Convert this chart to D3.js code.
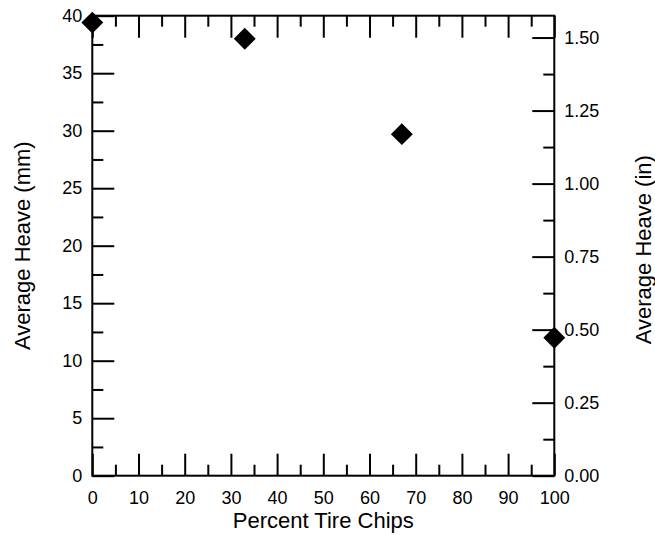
<!DOCTYPE html>
<html>
<head>
<meta charset="utf-8">
<script src="https://cdn.jsdelivr.net/npm/d3@7"></script>
<style>
  body { margin: 0; background: #fff; }
  text { font-family: "Liberation Sans", Arial, sans-serif; fill: #000; }
</style>
</head>
<body>
<svg id="chart" width="655" height="535"></svg>
<script>
const percentChips = [0, 33, 67, 100];
const heaveMm = [39.4, 38.0, 29.7, 12.0];
const xTicks = [0, 10, 20, 30, 40, 50, 60, 70, 80, 90, 100];
const yTicksMm = [0, 5, 10, 15, 20, 25, 30, 35, 40];
const yTicksIn = [0, 0.25, 0.5, 0.75, 1.0, 1.25, 1.5];

const width = 655, height = 535;
const margin = { top: 15.7, right: 100.7, bottom: 59.3, left: 92.3 };
const innerW = width - margin.left - margin.right;
const innerH = height - margin.top - margin.bottom;

const svg = d3.select("#chart");
const g = svg.append("g").attr("transform", `translate(${margin.left},${margin.top})`);

const x = d3.scaleLinear().domain([0, 100]).range([0, innerW]);
const y = d3.scaleLinear().domain([0, 40]).range([innerH, 0]);
const yIn = d3.scaleLinear().domain([0, 40 / 25.4]).range([innerH, 0]);

const major = 22, minor = 11;
const lw = 2;

// minor tick positions
const xMinor = d3.range(5, 100, 10);
const yMinorMm = d3.range(2.5, 40, 5);
const yMinorIn = d3.range(0.125, 1.5, 0.25);

function styleAxis(sel) {
  sel.select(".domain").remove();
  sel.selectAll(".tick line").attr("stroke", "#000").attr("stroke-width", lw);
  sel.selectAll(".tick text").style("font-size", "18px").attr("fill", "#000");
}

// bottom axis (ticks inward)
g.append("g").attr("transform", `translate(0,${innerH})`)
  .call(d3.axisBottom(x).tickValues(xTicks).tickSize(-major).tickPadding(16).tickFormat(d3.format("d")))
  .call(styleAxis);
g.append("g").attr("transform", `translate(0,${innerH})`)
  .call(d3.axisBottom(x).tickValues(xMinor).tickSize(-minor).tickFormat(""))
  .call(styleAxis);

// top axis mirror
g.append("g")
  .call(d3.axisTop(x).tickValues(xTicks).tickSize(-major).tickFormat(""))
  .call(styleAxis);
g.append("g")
  .call(d3.axisTop(x).tickValues(xMinor).tickSize(-minor).tickFormat(""))
  .call(styleAxis);

// left axis mm
g.append("g")
  .call(d3.axisLeft(y).tickValues(yTicksMm).tickSize(-major).tickPadding(10).tickFormat(d3.format("d")))
  .call(styleAxis);
g.append("g")
  .call(d3.axisLeft(y).tickValues(yMinorMm).tickSize(-minor).tickFormat(""))
  .call(styleAxis);

// right axis inches
g.append("g").attr("transform", `translate(${innerW},0)`)
  .call(d3.axisRight(yIn).tickValues(yTicksIn).tickSize(-major).tickPadding(10).tickFormat(d3.format(".2f")))
  .call(styleAxis);
g.append("g").attr("transform", `translate(${innerW},0)`)
  .call(d3.axisRight(yIn).tickValues(yMinorIn).tickSize(-minor).tickFormat(""))
  .call(styleAxis);

// frame
g.append("rect")
  .attr("width", innerW).attr("height", innerH)
  .attr("fill", "none").attr("stroke", "#000").attr("stroke-width", lw);

// points
const sym = d3.symbol().type(d3.symbolSquare).size(240);
g.selectAll("path.pt")
  .data(percentChips.map((p, i) => ({ p, h: heaveMm[i] })))
  .join("path")
  .attr("class", "pt")
  .attr("d", sym)
  .attr("fill", "#000")
  .attr("transform", d => `translate(${x(d.p)},${y(d.h)}) rotate(45)`);

// axis titles
svg.append("text")
  .attr("x", margin.left + innerW / 2).attr("y", 528)
  .attr("text-anchor", "middle").style("font-size", "22px")
  .text("Percent Tire Chips");

svg.append("text")
  .attr("transform", `translate(30,${margin.top + innerH / 2}) rotate(-90)`)
  .attr("text-anchor", "middle").style("font-size", "22px")
  .text("Average Heave (mm)");

svg.append("text")
  .attr("transform", `translate(651,${margin.top + innerH / 2 + 4}) rotate(-90)`)
  .attr("text-anchor", "middle").style("font-size", "22px")
  .text("Average Heave (in)");
</script>
</body>
</html>
